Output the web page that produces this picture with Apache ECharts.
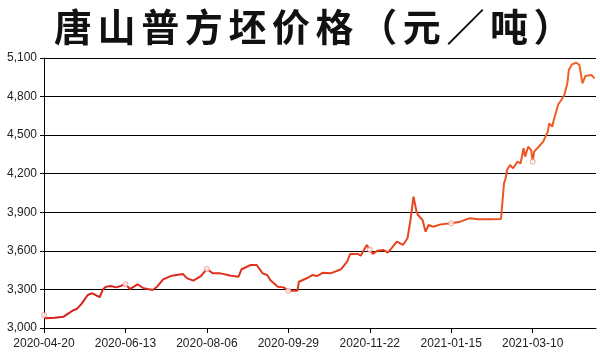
<!DOCTYPE html>
<html><head><meta charset="utf-8">
<script src="https://cdn.jsdelivr.net/npm/echarts@6/dist/echarts.min.js"></script>
<style>html,body{margin:0;padding:0;background:#fff}#c{width:600px;height:360px}</style>
</head><body><div id="c"></div>
<script>
const titleText = '唐山普方坯价格（元／吨）';
const startDate = '2020-04-20';
const dayCount = 367;
const yTicks = [3000, 3300, 3600, 3900, 4200, 4500, 4800, 5100];
const markerDates = ['2020-04-20','2020-06-13','2020-08-06','2020-09-29','2020-11-22','2021-01-15','2021-03-10'];
const dates = ['2020-04-20','2020-04-21','2020-04-24','2020-04-27','2020-05-03','2020-05-07','2020-05-09','2020-05-12','2020-05-15','2020-05-19','2020-05-22','2020-05-25','2020-05-27','2020-05-29','2020-05-31','2020-06-03','2020-06-07','2020-06-13','2020-06-16','2020-06-21','2020-06-25','2020-07-01','2020-07-04','2020-07-08','2020-07-13','2020-07-17','2020-07-21','2020-07-24','2020-07-28','2020-08-02','2020-08-06','2020-08-10','2020-08-15','2020-08-22','2020-08-27','2020-08-29','2020-09-04','2020-09-08','2020-09-12','2020-09-15','2020-09-17','2020-09-22','2020-09-26','2020-09-29','2020-10-05','2020-10-06','2020-10-12','2020-10-15','2020-10-18','2020-10-22','2020-10-27','2020-11-03','2020-11-07','2020-11-09','2020-11-14','2020-11-16','2020-11-20','2020-11-22','2020-11-24','2020-11-27','2020-12-01','2020-12-04','2020-12-10','2020-12-14','2020-12-17','2020-12-19','2020-12-21','2020-12-23','2020-12-24','2020-12-27','2020-12-29','2020-12-31','2021-01-03','2021-01-08','2021-01-15','2021-01-21','2021-01-27','2021-02-02','2021-02-10','2021-02-17','2021-02-19','2021-02-20','2021-02-21','2021-02-23','2021-02-25','2021-02-28','2021-03-02','2021-03-04','2021-03-05','2021-03-07','2021-03-09','2021-03-10','2021-03-11','2021-03-14','2021-03-17','2021-03-20','2021-03-21','2021-03-23','2021-03-24','2021-03-27','2021-03-29','2021-03-31','2021-04-02','2021-04-03','2021-04-05','2021-04-08','2021-04-10','2021-04-12','2021-04-14','2021-04-18','2021-04-20'];
const prices = [3100,3075,3078,3080,3088,3120,3135,3150,3190,3257,3270,3251,3241,3300,3320,3327,3316,3340,3303,3340,3309,3296,3321,3378,3404,3412,3420,3386,3368,3404,3459,3425,3425,3407,3399,3457,3490,3490,3425,3412,3373,3321,3316,3290,3290,3360,3391,3412,3404,3430,3425,3457,3516,3576,3576,3562,3646,3610,3576,3600,3607,3586,3671,3646,3698,3840,4021,3905,3879,3840,3749,3801,3788,3806,3814,3827,3853,3845,3845,3848,4125,4160,4229,4268,4242,4294,4281,4398,4333,4410,4384,4294,4372,4410,4449,4527,4592,4566,4618,4740,4773,4812,4903,5007,5050,5063,5045,4903,4960,4968,4942];

function fmtDate(d){const p=n=>String(n).padStart(2,'0');return d.getUTCFullYear()+'-'+p(d.getUTCMonth()+1)+'-'+p(d.getUTCDate());}
const categories=[];
{const s=new Date(startDate+'T00:00:00Z');for(let i=0;i<dayCount;i++){categories.push(fmtDate(new Date(s.getTime()+i*86400000)));}}
const lineData=dates.map((d,i)=>[d,prices[i]]);
const markerData=markerDates.map(d=>[d,prices[dates.indexOf(d)]]);

const titleChars=Array.from(titleText).map((ch,i)=>({
  type:'text',left:null,x:54+i*43.6,y:27,
  style:{text:ch,fontFamily:'Noto Sans CJK SC',fontWeight:'bold',fontSize:38,fill:'#111',textVerticalAlign:'middle',textAlign:'left'}
}));

const chart=echarts.init(document.getElementById('c'),null,{renderer:'canvas'});
chart.setOption({
  animation:false,
  backgroundColor:'#fff',
  graphic:titleChars,
  grid:{left:44,right:4,top:58,bottom:32},
  xAxis:{type:'category',data:categories,boundaryGap:false,
    axisLine:{lineStyle:{color:'#000',width:1}},
    axisTick:{show:true,interval:53,length:5,lineStyle:{color:'#000'}},
    axisLabel:{interval:53,color:'#222',fontFamily:'Liberation Sans',fontSize:12,margin:10},
    splitLine:{show:false}},
  yAxis:{type:'value',min:yTicks[0],max:yTicks[yTicks.length-1],interval:300,
    axisLine:{show:true,lineStyle:{color:'#000',width:1}},
    axisTick:{show:true,length:4,lineStyle:{color:'#000'}},
    axisLabel:{color:'#222',fontFamily:'Liberation Sans',fontSize:12,margin:7,
      formatter:v=>String(v).replace(/\B(?=(\d{3})+(?!\d))/g,',')},
    splitLine:{show:true,lineStyle:{color:'#000',width:1}}},
  series:[
    {type:'line',data:lineData,symbol:'none',
      lineStyle:{width:2,color:new echarts.graphic.LinearGradient(0,0,1,0,[{offset:0,color:'#d41e1e'},{offset:0.6,color:'#e8401e'},{offset:1,color:'#f26422'}])},
      emphasis:{disabled:true}},
    {type:'scatter',data:markerData,symbol:'circle',symbolSize:5,z:3,
      itemStyle:{color:'#fff',borderColor:'#ea8a80',borderWidth:1},
      emphasis:{disabled:true}}
  ]
});
</script></body></html>
